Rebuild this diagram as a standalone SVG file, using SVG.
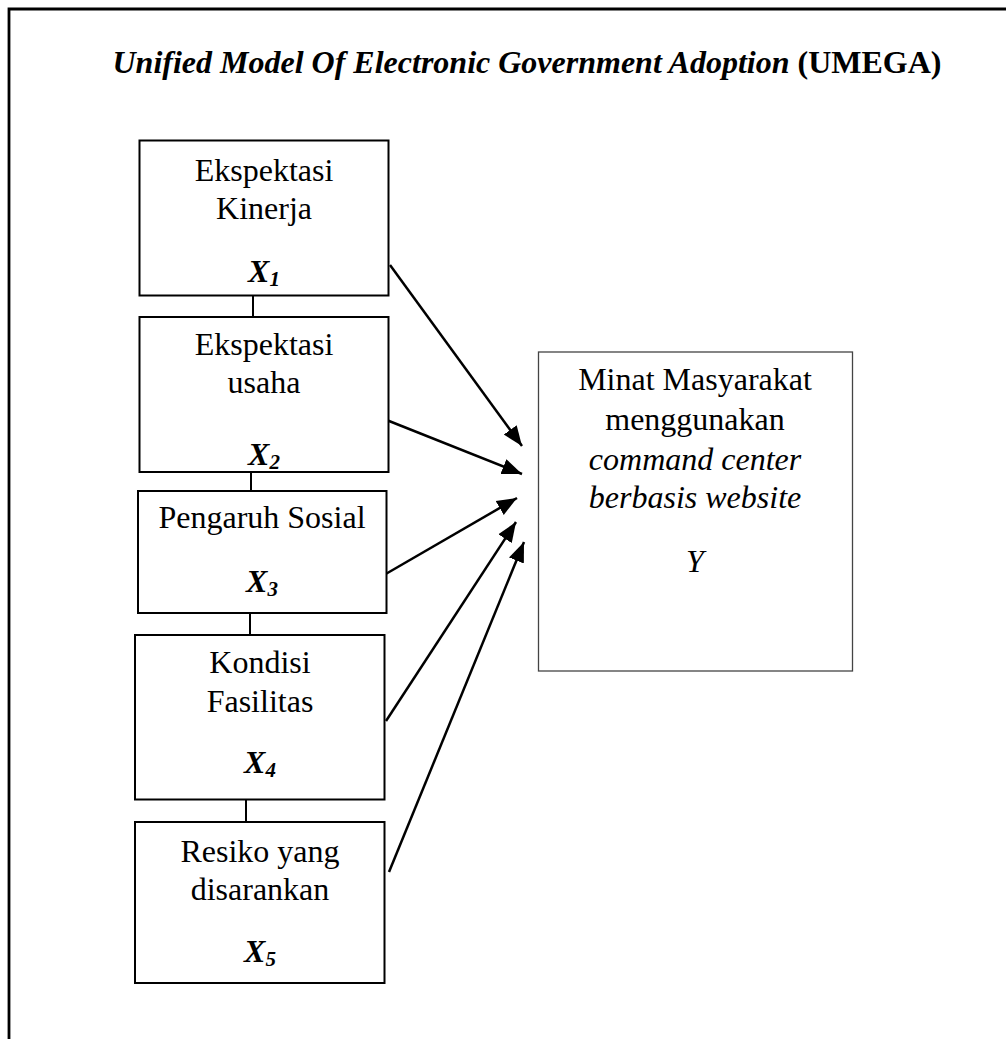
<svg xmlns="http://www.w3.org/2000/svg" width="1006" height="1039" viewBox="0 0 1006 1039">
<style>
.frame{fill:none;stroke:#000;stroke-width:2.8}
.box{fill:#fff;stroke:#000;stroke-width:2}
.ybox{fill:#fff;stroke:#444;stroke-width:1.3}
.t{font-family:"Liberation Serif","Times New Roman",serif;font-size:32px;fill:#000;text-anchor:middle}
.i{font-style:italic}
.b{font-weight:bold}
.link{stroke:#000;stroke-width:2}
.arr{stroke:#000;stroke-width:2.5;fill:none}
</style>
<defs>
<marker id="ah" markerUnits="userSpaceOnUse" markerWidth="22" markerHeight="18" refX="20" refY="9" orient="auto">
<path d="M0,1 L20,9 L0,17 Z" fill="#000"/>
</marker>
</defs>
<rect width="1006" height="1039" fill="#fff"/>
<path class="frame" d="M9,1039 V9 H1006"/>
<text class="t b" x="527" y="73"><tspan class="i">Unified Model Of Electronic Government Adoption</tspan> (UMEGA)</text>
<g id="connectors">
<line class="link" x1="253" y1="296" x2="253" y2="317"/>
<line class="link" x1="251" y1="472" x2="251" y2="491"/>
<line class="link" x1="250" y1="613" x2="250" y2="635"/>
<line class="link" x1="246" y1="799" x2="246" y2="822"/>
<line class="arr" x1="390" y1="265" x2="522" y2="446" marker-end="url(#ah)"/>
<line class="arr" x1="384" y1="419" x2="522" y2="474" marker-end="url(#ah)"/>
<line class="arr" x1="384" y1="575" x2="517" y2="498" marker-end="url(#ah)"/>
<line class="arr" x1="386" y1="721" x2="516" y2="522" marker-end="url(#ah)"/>
<line class="arr" x1="389" y1="872" x2="524" y2="542" marker-end="url(#ah)"/>
</g>
<g id="x1">
<rect class="box" x="139.5" y="140.5" width="249" height="155"/>
<text class="t" x="264" y="181">Ekspektasi</text>
<text class="t" x="264" y="219">Kinerja</text>
<text class="t b i" x="264" y="282">X<tspan font-size="21" dy="4">1</tspan></text>
</g>
<g id="x2">
<rect class="box" x="139.5" y="317" width="249" height="155"/>
<text class="t" x="264" y="355">Ekspektasi</text>
<text class="t" x="264" y="393">usaha</text>
<text class="t b i" x="264" y="465">X<tspan font-size="21" dy="4">2</tspan></text>
</g>
<g id="x3">
<rect class="box" x="138" y="491" width="248.5" height="122"/>
<text class="t" x="262" y="528">Pengaruh Sosial</text>
<text class="t b i" x="262" y="592">X<tspan font-size="21" dy="4">3</tspan></text>
</g>
<g id="x4">
<rect class="box" x="135" y="635" width="249.5" height="164.5"/>
<text class="t" x="260" y="673">Kondisi</text>
<text class="t" x="260" y="712">Fasilitas</text>
<text class="t b i" x="260" y="773">X<tspan font-size="21" dy="4">4</tspan></text>
</g>
<g id="x5">
<rect class="box" x="135" y="822" width="249.5" height="161"/>
<text class="t" x="260" y="862">Resiko yang</text>
<text class="t" x="260" y="900">disarankan</text>
<text class="t b i" x="260" y="962">X<tspan font-size="21" dy="4">5</tspan></text>
</g>
<g id="y">
<rect class="ybox" x="538.5" y="352" width="314" height="319"/>
<text class="t" x="695" y="390">Minat Masyarakat</text>
<text class="t" x="695" y="430">menggunakan</text>
<text class="t i" x="695" y="470">command center</text>
<text class="t i" x="695" y="508">berbasis website</text>
<text class="t i" x="695" y="572">Y</text>
</g>
</svg>
